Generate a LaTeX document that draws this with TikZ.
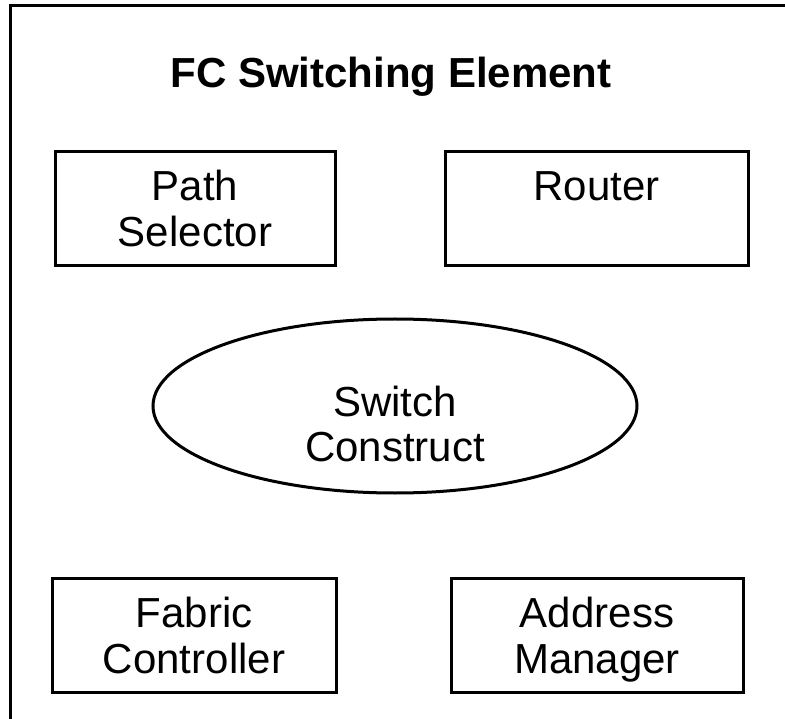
\documentclass[tikz,border=0pt]{standalone}
\usepackage{fontspec}
\setmainfont{Liberation Sans}
\usepackage{tikz}
\usetikzlibrary{shapes,positioning}

\begin{document}
\begin{tikzpicture}[x=1pt,y=-1pt,line width=3pt,
  every text node part/.style={align=center},
  unitbox/.style={draw,rectangle,inner sep=0pt,minimum height=114pt,text depth=0pt,font=\fontsize{42}{46}\selectfont},
  hubshape/.style={draw,ellipse,inner sep=0pt,minimum width=484pt,minimum height=174pt}]
\useasboundingbox (0,0) rectangle (785,719);
\clip (0,0) rectangle (785,719);
\draw (10,6) rectangle (820,760);
\node[anchor=base,font=\fontsize{42}{46}\selectfont\bfseries] (title) at (391,88) {FC Switching Element};
\node[unitbox,minimum width=280pt] (pathsel) at (195,208.5) {Path\\Selector};
\node[unitbox,minimum width=303pt] (router) at (596.5,209) {Router\\~};
\node[hubshape] (construct) at (395,406) {};
\node[inner sep=0pt,text depth=0pt,font=\fontsize{42}{45}\selectfont] (constructlbl) at (395,424) {Switch\\Construct};
\node[unitbox,minimum width=284pt] (fabric) at (194,635) {Fabric\\Controller};
\node[unitbox,minimum width=292pt] (addrmgr) at (597,635) {Address\\Manager};
\end{tikzpicture}
\end{document}
